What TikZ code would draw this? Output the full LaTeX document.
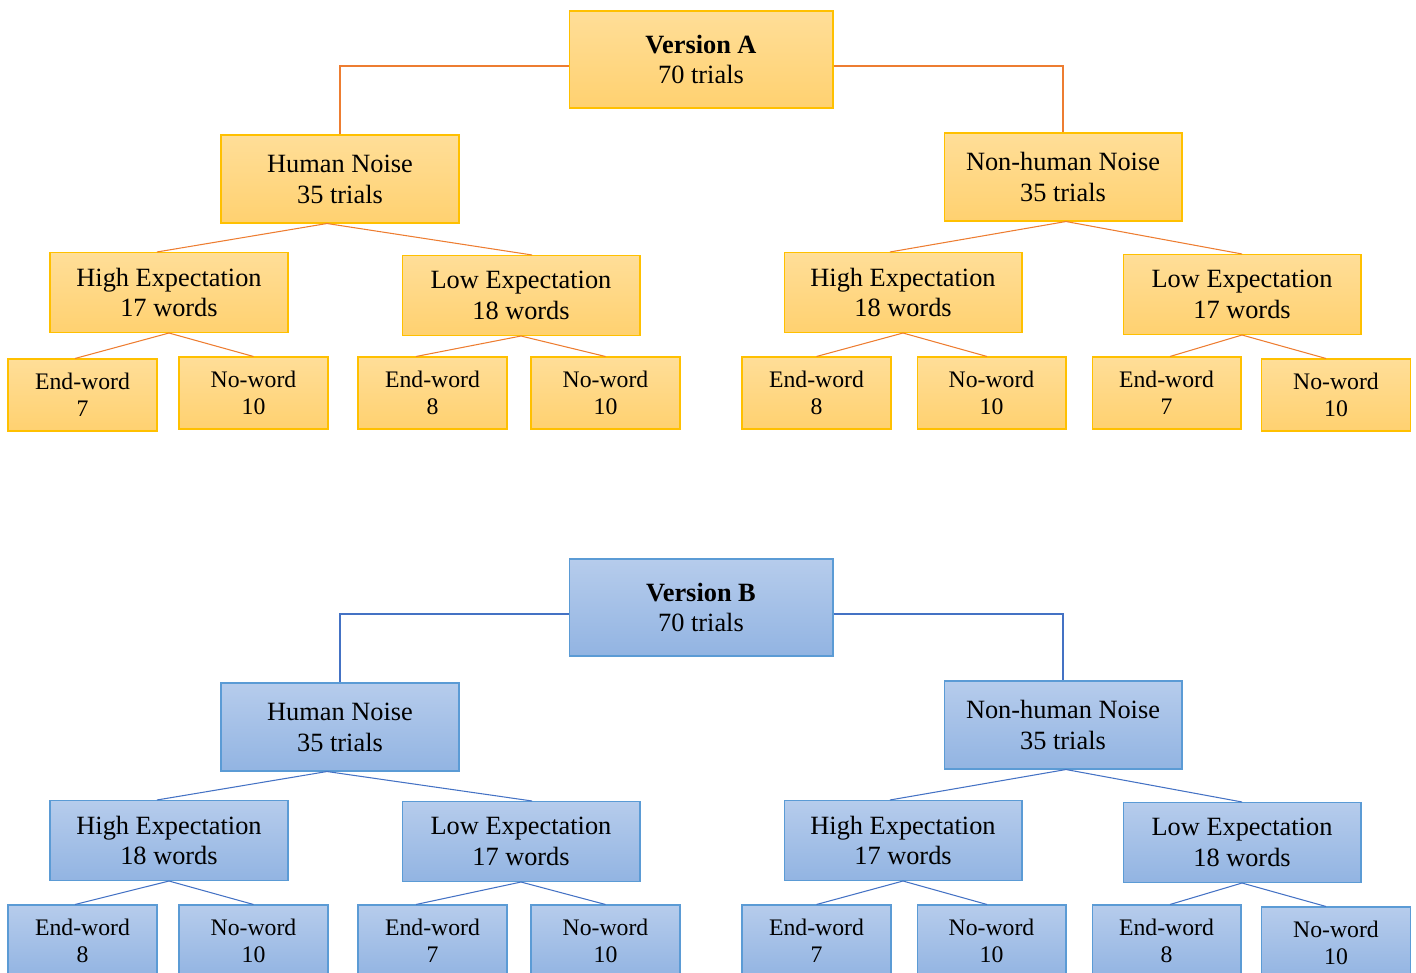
\documentclass[tikz,border=0pt]{standalone}
\usepackage{fontspec}
\setmainfont{Liberation Serif}
\definecolor{otop}{RGB}{255,222,152}
\definecolor{obot}{RGB}{255,209,112}
\definecolor{oline}{RGB}{255,192,0}
\definecolor{olink}{RGB}{237,125,49}
\definecolor{btop}{RGB}{182,204,236}
\definecolor{bbot}{RGB}{146,180,226}
\definecolor{bline}{RGB}{91,155,213}
\definecolor{blink}{RGB}{68,114,196}
\tikzset{
	box/.style={line width=0.6pt, inner sep=0pt, align=center},
	obox/.style={box, draw=oline, top color=otop, bottom color=obot},
	bbox/.style={box, draw=bline, top color=btop, bottom color=bbot},
	topbox/.style={minimum width=5.28cm, minimum height=1.94cm, font=\fontsize{15}{17.6}\selectfont},
	noisebox/.style={minimum width=4.76cm, minimum height=1.76cm, font=\fontsize{15}{17.6}\selectfont},
	expbox/.style={minimum width=4.76cm, minimum height=1.6cm, font=\fontsize{15}{17.6}\selectfont},
	leafbox/.style={minimum width=2.98cm, minimum height=1.44cm, font=\fontsize{13.5}{15.3}\selectfont},
	olinkline/.style={draw=olink, line width=0.6pt},
	blinkline/.style={draw=blink, line width=0.6pt}
}
\begin{document}
\begin{tikzpicture}[x=0.02cm, y=-0.02cm]
	\useasboundingbox (0,0) rectangle (1416,973);
	% Version A
	\node[obox, topbox] (A) at (701,59.5) {\textbf{Version A}\\70 trials};
	\node[obox, noisebox] (Ah) at (340,179) {Human Noise\\35 trials};
	\node[obox, noisebox] (An) at (1063,177) {Non-human Noise\\35 trials};
	\node[obox, expbox] (Ahh) at (169,292.5) {High Expectation\\17 words};
	\node[obox, expbox] (Ahl) at (521,295.5) {Low Expectation\\18 words};
	\node[obox, expbox] (Anh) at (903,292.5) {High Expectation\\18 words};
	\node[obox, expbox] (Anl) at (1242,294.5) {Low Expectation\\17 words};
	\node[obox, leafbox] (Ahhe) at (82.5,395) {End-word\\7};
	\node[obox, leafbox] (Ahhn) at (253.5,393) {No-word\\10};
	\node[obox, leafbox] (Ahle) at (432.5,393) {End-word\\8};
	\node[obox, leafbox] (Ahln) at (605.5,393) {No-word\\10};
	\node[obox, leafbox] (Anhe) at (816.5,393) {End-word\\8};
	\node[obox, leafbox] (Anhn) at (991.5,393) {No-word\\10};
	\node[obox, leafbox] (Anle) at (1166.5,393) {End-word\\7};
	\node[obox, leafbox] (Anln) at (1336,395) {No-word\\10};
	\draw[olinkline] ([yshift=-0.13cm]A.west) -| (Ah.north);
	\draw[olinkline] ([yshift=-0.13cm]A.east) -| (An.north);
	\draw[olinkline] ([xshift=-0.24cm]Ahh.north) -- ([xshift=-0.26cm]Ah.south) -- ([xshift=0.22cm]Ahl.north);
	\draw[olinkline] ([xshift=-0.26cm]Anh.north) -- ([xshift=0.06cm]An.south) -- (Anl.north);
	\draw[olinkline] ([xshift=-0.15cm]Ahhe.north) -- (Ahh.south) -- (Ahhn.north);
	\draw[olinkline] ([xshift=-0.33cm]Ahle.north) -- (Ahl.south) -- (Ahln.north);
	\draw[olinkline] (Anhe.north) -- (Anh.south) -- ([xshift=-0.09cm]Anhn.north);
	\draw[olinkline] ([xshift=0.07cm]Anle.north) -- (Anl.south) -- ([xshift=-0.2cm]Anln.north);
	% Version B
	\node[bbox, topbox] (B) at (701,607.5) {\textbf{Version B}\\70 trials};
	\node[bbox, noisebox] (Bh) at (340,727) {Human Noise\\35 trials};
	\node[bbox, noisebox] (Bn) at (1063,725) {Non-human Noise\\35 trials};
	\node[bbox, expbox] (Bhh) at (169,840.5) {High Expectation\\18 words};
	\node[bbox, expbox] (Bhl) at (521,841.5) {Low Expectation\\17 words};
	\node[bbox, expbox] (Bnh) at (903,840.5) {High Expectation\\17 words};
	\node[bbox, expbox] (Bnl) at (1242,842.5) {Low Expectation\\18 words};
	\node[bbox, leafbox] (Bhhe) at (82.5,941) {End-word\\8};
	\node[bbox, leafbox] (Bhhn) at (253.5,941) {No-word\\10};
	\node[bbox, leafbox] (Bhle) at (432.5,941) {End-word\\7};
	\node[bbox, leafbox] (Bhln) at (605.5,941) {No-word\\10};
	\node[bbox, leafbox] (Bnhe) at (816.5,941) {End-word\\7};
	\node[bbox, leafbox] (Bnhn) at (991.5,941) {No-word\\10};
	\node[bbox, leafbox] (Bnle) at (1166.5,941) {End-word\\8};
	\node[bbox, leafbox] (Bnln) at (1336,943) {No-word\\10};
	\draw[blinkline] ([yshift=-0.13cm]B.west) -| (Bh.north);
	\draw[blinkline] ([yshift=-0.13cm]B.east) -| (Bn.north);
	\draw[blinkline] ([xshift=-0.24cm]Bhh.north) -- ([xshift=-0.26cm]Bh.south) -- ([xshift=0.22cm]Bhl.north);
	\draw[blinkline] ([xshift=-0.26cm]Bnh.north) -- ([xshift=0.06cm]Bn.south) -- (Bnl.north);
	\draw[blinkline] ([xshift=-0.15cm]Bhhe.north) -- (Bhh.south) -- (Bhhn.north);
	\draw[blinkline] ([xshift=-0.33cm]Bhle.north) -- (Bhl.south) -- (Bhln.north);
	\draw[blinkline] (Bnhe.north) -- (Bnh.south) -- ([xshift=-0.09cm]Bnhn.north);
	\draw[blinkline] ([xshift=0.07cm]Bnle.north) -- (Bnl.south) -- ([xshift=-0.2cm]Bnln.north);
\end{tikzpicture}
\end{document}
